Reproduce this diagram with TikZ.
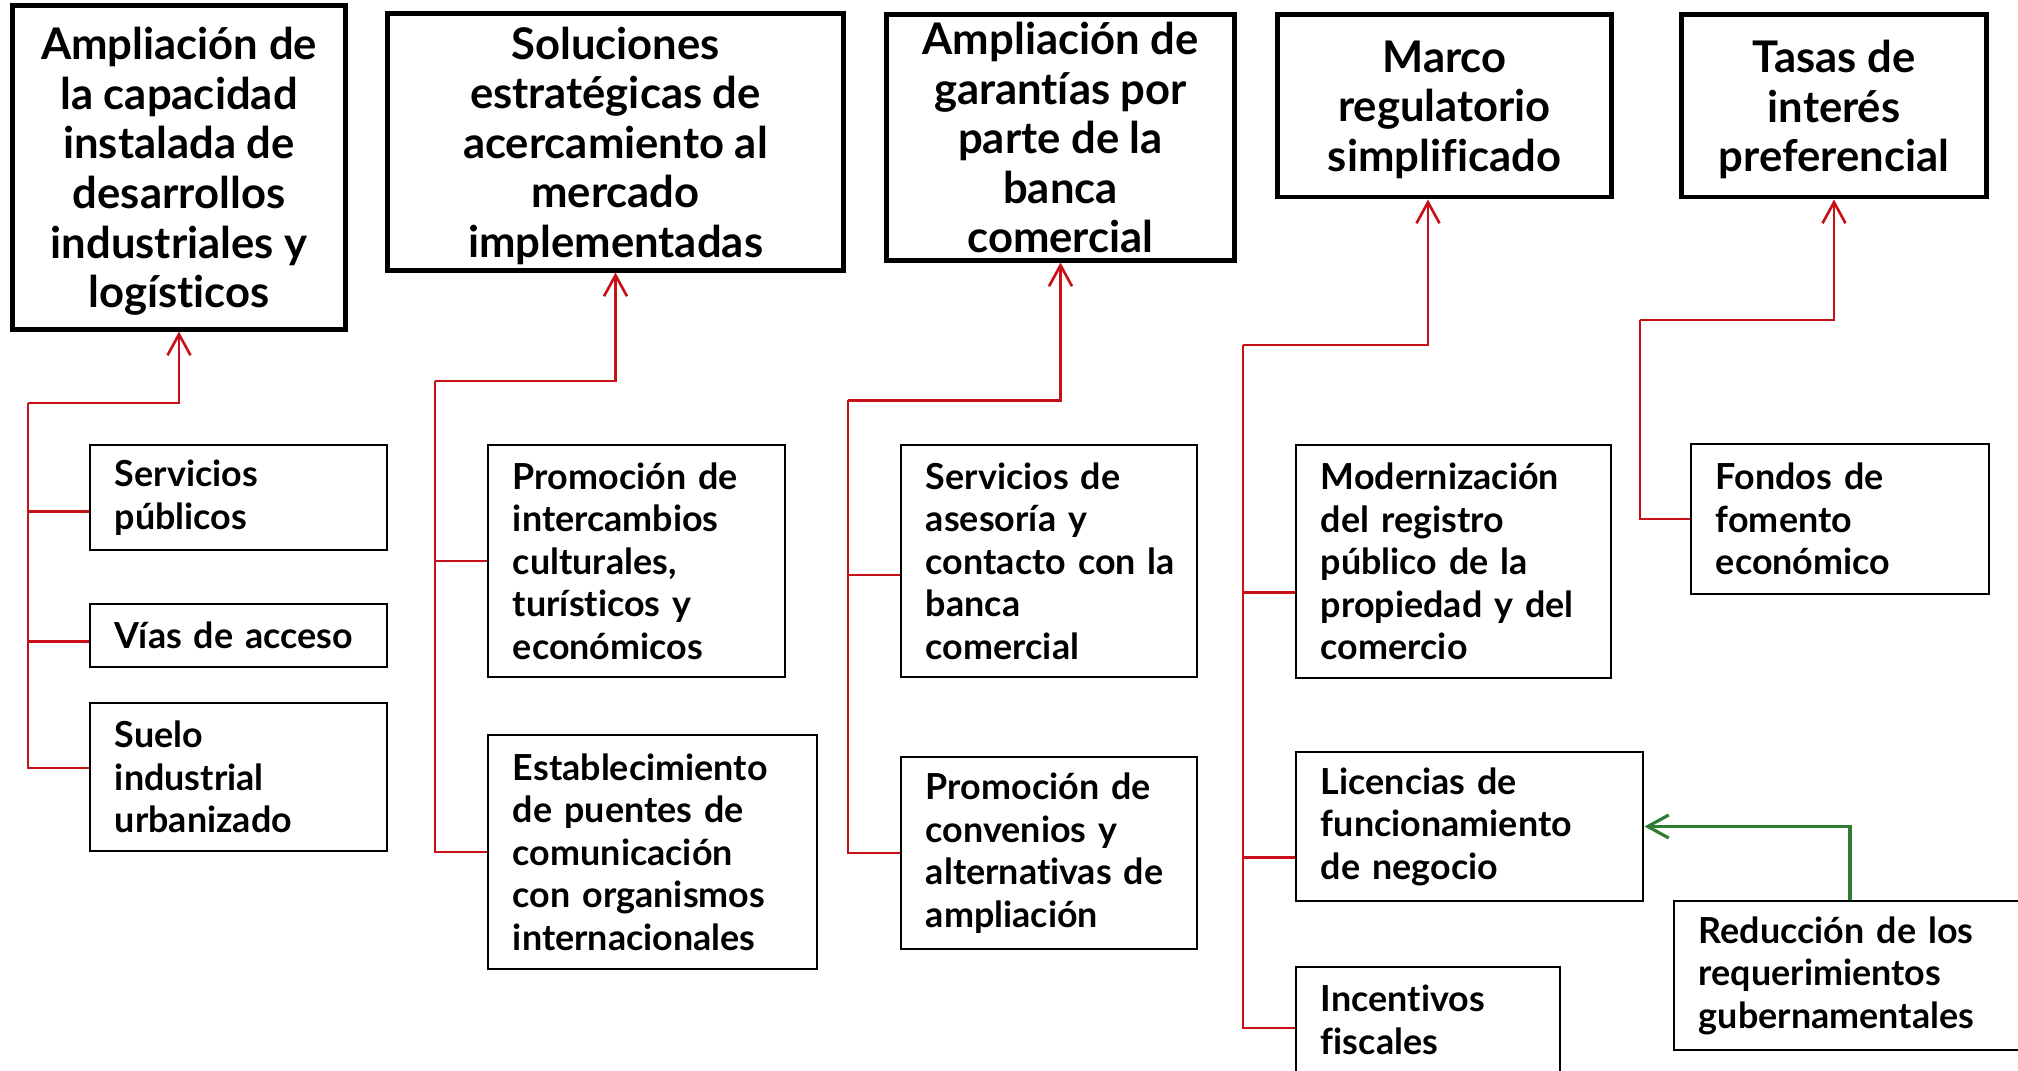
\documentclass[tikz,border=0pt]{standalone}
\usepackage{fontspec}
\setmainfont{Lato}[Ligatures=NoCommon]
\usepackage{tikz}
\usetikzlibrary{arrows.meta}
\definecolor{LineRed}{RGB}{200,16,24}
\definecolor{LineGreen}{RGB}{46,125,50}

\begin{document}
\begin{tikzpicture}[x=0.01cm,y=-0.01cm,>={Straight Barb[length=2.1mm,width=2.3mm]},
  goalbox/.style={draw,line width=1.4pt,align=center,inner sep=0pt,text depth=0pt,font=\bfseries\fontsize{12.4}{14.1}\selectfont},
  subbox/.style={draw,line width=0.75pt,align=left,inner xsep=0.25cm,inner ysep=0pt,text width=#1,font=\bfseries\fontsize{10.2}{12.1}\selectfont},
  redlink/.style={LineRed,line width=0.75pt},
  greenlink/.style={LineGreen,line width=0.9pt}]
\clip (0,0) rectangle (2018,1071);
\fill[white] (0,0) rectangle (2018,1071);

\node[goalbox,minimum width=3.32cm,minimum height=3.23cm] (t1) at (179,167.5){Ampliación de\\la capacidad\\instalada de\\desarrollos\\industriales y\\logísticos};
\node[goalbox,minimum width=4.55cm,minimum height=2.56cm] (t2) at (615.5,142){Soluciones\\estratégicas de\\acercamiento al\\mercado\\implementadas};
\node[goalbox,minimum width=3.47cm,minimum height=2.45cm] (t3) at (1060.5,137.5){Ampliación de\\garantías por\\parte de la\\banca\\comercial};
\node[goalbox,minimum width=3.33cm,minimum height=1.82cm] (t4) at (1444.5,106){Marco\\regulatorio\\simplificado};
\node[goalbox,minimum width=3.04cm,minimum height=1.82cm] (t5) at (1834,106){Tasas de\\interés\\preferencial};

\node[subbox=2.47cm,minimum height=1.05cm] (sp) at (238.5,497.5){Servicios\\públicos};
\node[subbox=2.47cm,minimum height=0.63cm] (va) at (238.5,635.5){Vías de acceso};
\node[subbox=2.47cm,minimum height=1.48cm] (su) at (238.5,777){Suelo\\industrial\\urbanizado};

\node[subbox=2.47cm,minimum height=2.32cm] (pi) at (636.5,561){Promoción de\\intercambios\\culturales,\\turísticos y\\económicos};
\node[subbox=2.79cm,minimum height=2.34cm] (ep) at (652.5,852){Establecimiento\\de puentes de\\comunicación\\con organismos\\internacionales};

\node[subbox=2.46cm,minimum height=2.32cm] (sa) at (1049,561){Servicios de\\asesoría y\\\mbox{contacto con la}\\banca\\comercial};
\node[subbox=2.46cm,minimum height=1.92cm] (pc) at (1049,853){Promoción de\\convenios y\\alternativas de\\ampliación};

\node[subbox=2.65cm,minimum height=2.33cm] (mr) at (1453.5,561.5){Modernización\\del registro\\público de la\\propiedad y del\\comercio};
\node[subbox=2.97cm,minimum height=1.49cm] (lf) at (1469.5,826.5){Licencias de\\funcionamiento\\de negocio};
\node[subbox=2.14cm,minimum height=1.06cm] (if) at (1428,1020){Incentivos\\fiscales};

\node[subbox=2.48cm,minimum height=1.50cm] (ff) at (1840,519){Fondos de\\fomento\\económico};
\node[subbox=3.16cm,minimum height=1.49cm] (rr) at (1857,975.5){Reducción de los\\requerimientos\\gubernamentales};

\coordinate (j1) at (28,403);
\coordinate (j2) at (435,381);
\coordinate (j3) at (848,400.5);
\coordinate (j4) at (1243,345);
\coordinate (j5) at (1640,320);

\draw[redlink,->] (j1) -| (t1.south);
\draw[redlink] (j1) |- ([yshift=-0.14cm]sp.west);
\draw[redlink] (j1) |- ([yshift=-0.06cm]va.west);
\draw[redlink] (j1) |- ([yshift=0.09cm]su.west);

\draw[redlink,->] (j2) -| (t2.south);
\draw[redlink] (j2) |- (pi.west);
\draw[redlink] (j2) |- (ep.west);

\draw[redlink,->] (j3) -| (t3.south);
\draw[redlink] (j3) |- ([yshift=-0.14cm]sa.west);
\draw[redlink] (j3) |- (pc.west);

\draw[redlink,->] (j4) -| ([xshift=-0.165cm]t4.south);
\draw[redlink] (j4) |- ([yshift=-0.31cm]mr.west);
\draw[redlink] (j4) |- ([yshift=-0.31cm]lf.west);
\draw[redlink] (j4) |- ([yshift=-0.08cm]if.west);

\draw[redlink,->] (j5) -| (t5.south);
\draw[redlink] (j5) |- (ff.west);

\draw[greenlink,->] ([xshift=-0.07cm]rr.north) |- (lf.east);
\end{tikzpicture}
\end{document}
